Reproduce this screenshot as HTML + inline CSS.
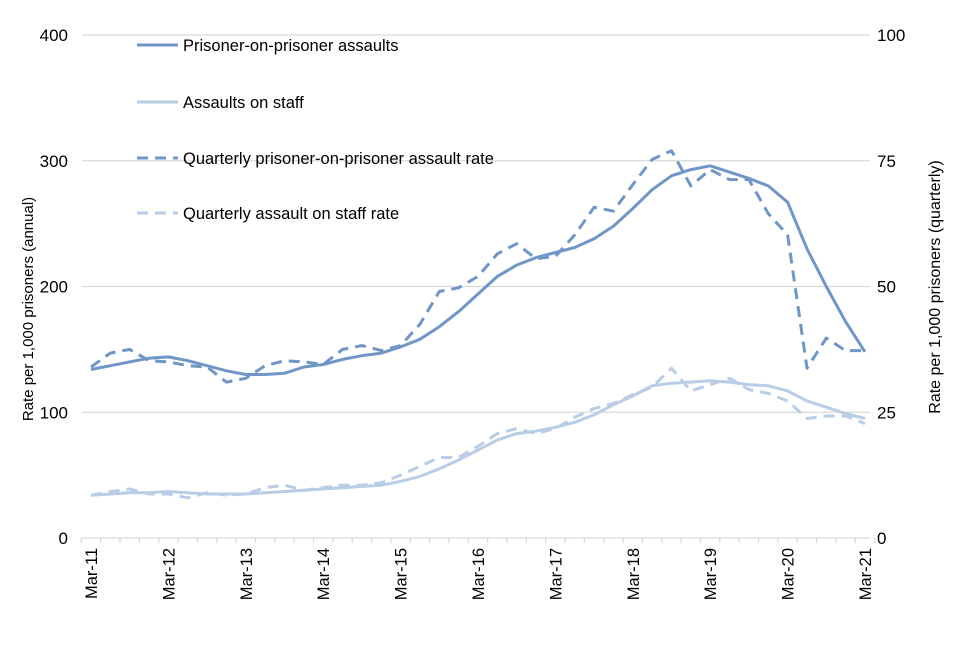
<!DOCTYPE html>
<html><head><meta charset="utf-8"><style>
body{margin:0;background:#fff;font-family:"Liberation Sans",Arial,sans-serif}
svg text{font-family:"Liberation Sans",Arial,sans-serif;fill:#000}
</style></head><body>
<svg id="chart" width="960" height="640"></svg>
<script>
const categories=["Mar-11","Jun-11","Sep-11","Dec-11","Mar-12","Jun-12","Sep-12","Dec-12","Mar-13","Jun-13","Sep-13","Dec-13","Mar-14","Jun-14","Sep-14","Dec-14","Mar-15","Jun-15","Sep-15","Dec-15","Mar-16","Jun-16","Sep-16","Dec-16","Mar-17","Jun-17","Sep-17","Dec-17","Mar-18","Jun-18","Sep-18","Dec-18","Mar-19","Jun-19","Sep-19","Dec-19","Mar-20","Jun-20","Sep-20","Dec-20","Mar-21"];
const popAnnual=[134,137,140,143,144,141,137,133,130,130,131,136,138,142,145,147,152,158,168,180,194,208,217,223,227,231,238,248,262,277,288,293,296,291,286,280,267,230,200,172,148];
const staffAnnual=[34,35,36,36,37,36,35,35,35,36,37,38,39,40,41,42,45,49,55,62,70,78,83,85,88,92,98,106,113,121,123,124,125,124,122,121,117,109,104,99,95];
const popQuarterly=[34,36.75,37.5,35.25,35,34.25,34,31,31.75,34.25,35.25,35,34.5,37.5,38.25,37.25,38.25,42.5,49,49.75,52,56.5,58.5,55.5,56,60.25,65.75,65,70.25,75.25,77,70,73.25,71.25,71.25,64.5,60.25,33.75,39.75,37.25,37.25];
const staffQuarterly=[8.5,9.25,9.75,8.75,8.75,8,9,8.5,8.75,10,10.5,9.5,10,10.5,10.5,11,12.5,14.25,16,16,18.25,20.75,21.75,20.75,21.75,24,25.75,26.75,28.5,30,33.75,29.25,30.5,31.75,29.5,28.75,27.25,23.75,24.25,24.25,22.75];
const leftTicks=[0,100,200,300,400];
const rightTicks=[0,25,50,75,100];
const NS="http://www.w3.org/2000/svg";
const svg=document.getElementById('chart');
const X0=91,X1=865,Y0=538,Y1=35;
const xs=i=>X0+(X1-X0)*i/(categories.length-1);
const yl=v=>Y0-(Y0-Y1)*v/400;
const yr=v=>Y0-(Y0-Y1)*v/100;
function mk(t,a,p){const e=document.createElementNS(NS,t);for(const k in a)e.setAttribute(k,a[k]);(p||svg).appendChild(e);return e;}
leftTicks.forEach((v,i)=>{
 if(v>0){const g=mk('line',{x1:82,x2:870,y1:yl(v),y2:yl(v),stroke:'#d9d9d9','stroke-width':1.3});
 
 }
 const t=mk('text',{x:68,y:yl(v)+6,'text-anchor':'end','font-size':17});t.textContent=v;
 
 
});
rightTicks.forEach(v=>{
 const t=mk('text',{x:877,y:yr(v)+6,'font-size':17});t.textContent=v;
 
 
});
const ax=mk('line',{x1:82,x2:870,y1:Y0,y2:Y0,stroke:'#d9d9d9','stroke-width':1.3});


for(let i=0;i<=categories.length;i++){const x=X0-9.7+i*(X1-X0)/(categories.length-1);
 mk('line',{x1:x,x2:x,y1:Y0,y2:Y0+5,stroke:'#d9d9d9','stroke-width':1.3});}
categories.forEach((c,i)=>{if(i%4)return;
 const t=mk('text',{transform:`translate(${xs(i)+6},${Y0+10}) rotate(-90)`,'text-anchor':'end','font-size':16.5});t.textContent=c;
 
 
});
function series(vals,yf,color,dash,name){
 const d=vals.map((v,i)=>(i?'L':'M')+xs(i).toFixed(1)+','+yf(v).toFixed(1)).join('');
 const p=mk('path',{d:d,fill:'none',stroke:color,'stroke-width':3,'stroke-dasharray':dash||'none','stroke-linejoin':'round'});
 
 
}
const dark='#7096c8',light='#b9cde6';
series(staffAnnual,yl,light,'', 'series-assaults-on-staff');
series(staffQuarterly,yr,light,'11 7','series-quarterly-staff-rate');
series(popAnnual,yl,dark,'', 'series-prisoner-on-prisoner');
series(popQuarterly,yr,dark,'11 7','series-quarterly-pop-rate');
const leg=[["Prisoner-on-prisoner assaults",dark,''],["Assaults on staff",light,''],["Quarterly prisoner-on-prisoner assault rate",dark,'11 7'],["Quarterly assault on staff rate",light,'11 7']];
const ly=[45,102,158,213];
leg.forEach((l,i)=>{
 const g=mk('g',{});
 
 
 mk('line',{x1:137,x2:178,y1:ly[i],y2:ly[i],stroke:l[1],'stroke-width':3,'stroke-dasharray':l[2]||'none'},g);
 const t=mk('text',{x:183,y:ly[i]+6,'font-size':16.5},g);t.textContent=l[0];
});
const t1=mk('text',{transform:'translate(33,309) rotate(-90)','text-anchor':'middle','font-size':15});t1.textContent='Rate per 1,000 prisoners (annual)';


const t2=mk('text',{transform:'translate(940,287) rotate(-90)','text-anchor':'middle','font-size':16});t2.textContent='Rate per 1,000 prisoners (quarterly)';


</script>
</body></html>
